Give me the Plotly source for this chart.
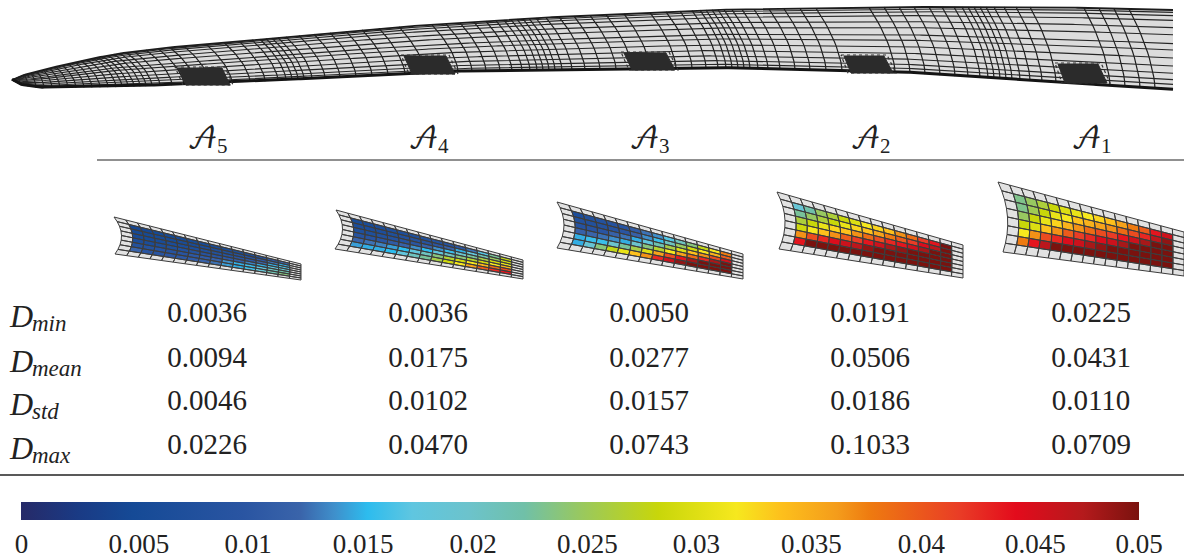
import numpy as np
import plotly.graph_objects as go
from plotly.colors import sample_colorscale

# ---------- table data ----------
areas = ["𝒜", "𝒜", "𝒜", "𝒜", "𝒜"]
area_subs = ["5", "4", "3", "2", "1"]
row_names = ["min", "mean", "std", "max"]
d_min = ["0.0036", "0.0036", "0.0050", "0.0191", "0.0225"]
d_mean = ["0.0094", "0.0175", "0.0277", "0.0506", "0.0431"]
d_std = ["0.0046", "0.0102", "0.0157", "0.0186", "0.0110"]
d_max = ["0.0226", "0.0470", "0.0743", "0.1033", "0.0709"]
tick_text = ["0", "0.005", "0.01", "0.015", "0.02", "0.025", "0.03", "0.035", "0.04", "0.045", "0.05"]
# where the reference prints those labels along the bar, as fractions of the 0-0.05 scale
tick_places = [0.0005, 0.1055, 0.2032, 0.306, 0.4045, 0.5066, 0.604, 0.7069, 0.8053, 0.9073, 1.0]

# ---------- damage on each patch (rows top to bottom, columns root to tip) ----------
a5 = [
    [.0045, .0045, .005, .005, .005, .0055, .0055, .006, .006, .0065, .007, .008, .0105, .0125],
    [.005, .005, .0055, .0055, .006, .006, .0065, .007, .0075, .008, .009, .0105, .013, .015],
    [.0055, .0055, .006, .0065, .0065, .007, .0075, .008, .0085, .0095, .0105, .0125, .015, .017],
    [.0065, .0065, .007, .0075, .008, .0085, .009, .0095, .0105, .0115, .0135, .015, .018, .02],
    [.0085, .0085, .009, .009, .0095, .0105, .011, .012, .014, .015, .016, .018, .021, .0225],
    [.0125, .0095, .0095, .010, .0105, .011, .012, .013, .0145, .015, .0165, .019, .022, .024],
]
a4 = [
    [.006, .006, .0065, .007, .007, .0075, .008, .0085, .009, .010, .013, .017, .023, .028],
    [.0065, .0065, .007, .0075, .008, .0085, .009, .010, .012, .015, .018, .022, .025, .029],
    [.0075, .0075, .008, .0085, .009, .010, .012, .014, .016, .020, .023, .026, .029, .031],
    [.009, .0095, .010, .011, .012, .014, .0155, .018, .021, .024, .027, .029, .032, .035],
    [.0125, .013, .0135, .0145, .0155, .018, .021, .024, .027, .029, .032, .035, .039, .041],
    [.0145, .015, .015, .0155, .018, .021, .023, .026, .029, .032, .036, .040, .043, .044],
]
a3 = [
    [.007, .008, .0085, .009, .0095, .011, .013, .014, .017, .021, .024, .028, .032, .038],
    [.008, .008, .0085, .009, .010, .012, .014, .016, .021, .025, .029, .032, .035, .040],
    [.009, .0095, .010, .012, .013, .015, .018, .022, .026, .030, .034, .037, .041, .046],
    [.012, .0125, .013, .014, .015, .020, .024, .027, .032, .036, .039, .043, .048, .05],
    [.015, .016, .016, .020, .023, .026, .030, .036, .041, .044, .048, .05, .05, .05],
    [.015, .019, .024, .028, .031, .034, .037, .043, .046, .049, .05, .05, .05, .05],
]
a2 = [
    [.019, .0225, .025, .0265, .0285, .030, .032, .033, .034, .037, .039, .042, .044, .05],
    [.023, .025, .0265, .0285, .031, .033, .034, .036, .038, .040, .042, .045, .047, .05],
    [.0265, .0285, .031, .033, .034, .037, .039, .041, .043, .044, .046, .048, .05, .05],
    [.029, .032, .034, .037, .040, .042, .044, .046, .048, .049, .05, .05, .05, .05],
    [.037, .041, .043, .045, .046, .047, .049, .05, .05, .05, .05, .05, .05, .05],
    [.044, .05, .05, .05, .05, .05, .05, .05, .05, .05, .05, .05, .05, .05],
]
a1 = [
    [.0235, .025, .0265, .0285, .030, .031, .032, .033, .034, .036, .038, .040, .044, .046],
    [.0235, .0255, .0285, .031, .032, .034, .035, .036, .037, .039, .041, .043, .047, .049],
    [.025, .0285, .031, .033, .035, .037, .039, .041, .042, .044, .046, .048, .05, .05],
    [.0285, .030, .034, .037, .040, .042, .043, .045, .046, .048, .05, .05, .05, .05],
    [.032, .037, .041, .043, .045, .046, .048, .049, .05, .05, .05, .05, .05, .05],
    [.038, .044, .047, .05, .05, .05, .05, .05, .05, .05, .05, .05, .05, .05],
]
patch_values = [a5, a4, a3, a2, a1]

colorscale = [
    [0.00, "#262a68"], [0.05, "#1a3a84"], [0.10, "#154a96"], [0.20, "#2a55a2"],
    [0.25, "#3a64aa"], [0.28, "#3f8fcb"], [0.31, "#2dbcee"], [0.35, "#5fc6e0"],
    [0.40, "#6cc3cc"], [0.45, "#70c0a8"], [0.50, "#98c860"], [0.57, "#c8d60a"],
    [0.64, "#f6e81e"], [0.68, "#fdc01c"], [0.73, "#f49c1b"], [0.76, "#ee7a10"],
    [0.84, "#e93c26"], [0.89, "#e30b1c"], [0.95, "#b41a1c"], [1.00, "#7a120e"],
]

# ---------- wing outline and mesh lines (page-pixel axes) ----------
wing_top_x = [12, 20, 38, 76, 115, 153, 230, 306, 383, 459, 536, 600, 704, 893, 1045, 1173]
wing_top_y = [80, 76, 71, 62, 54, 49, 42, 35, 28, 23, 18, 15, 10, 7, 7, 10]
wing_bot_x = [12, 20, 38, 120, 230, 451, 590, 704, 893, 1045, 1173]
wing_bot_y = [80, 85, 88, 87, 83, 72, 70, 68, 72, 82, 90]
wing_cols = [20, 28, 36, 44, 52, 60, 68, 76, 84, 92, 100, 108, 116, 122, 128, 134, 140, 146, 152, 160,
             172, 184, 196, 210, 232, 250, 265, 278, 286, 292, 298, 304, 312, 325, 340, 356, 372, 388,
             405, 425, 458, 472, 486, 500, 512, 522, 530, 537, 543, 549, 555, 562, 572, 585, 600, 616,
             632, 650, 676, 692, 706, 718, 726, 732, 738, 744, 750, 758, 768, 780, 795, 810, 826, 842,
             895, 910, 925, 940, 955, 968, 980, 988, 994, 1000, 1006, 1012, 1020, 1030, 1042, 1056,
             1110, 1125, 1140, 1155]
wing_rows = [0.03, 0.07, 0.13, 0.22, 0.31, 0.42, 0.5, 0.6, 0.7, 0.79, 0.87, 0.93]
# dark refined zones on the wing: bottom-left x, bottom-right x, top-left x, top-right x, top y, bottom y
wing_zones = [
    (186, 230, 178, 222, 67, 85),
    (412, 455, 404, 446, 55, 74),
    (632, 675, 624, 666, 52, 70),
    (851, 893, 844, 884, 55, 73),
    (1065, 1107, 1058, 1098, 63, 83),
]

# corners of the five strain patches: top-left, bottom-left, top-right, bottom-right
patch_corners = [
    ((114, 217), (115, 254), (301, 264), (301, 280)),
    ((336, 210), (335, 249), (523, 260), (523, 279)),
    ((557, 202), (557, 248), (743, 254), (743, 279)),
    ((777, 192), (779, 249), (963, 245), (963, 278)),
    ((998, 182), (1003, 252), (1184, 232), (1184, 276)),
]
col_centres = [207, 428, 649, 870, 1091]
row_y = [315, 360, 403, 447]

LINE = "#3c3c3c"
CELL = "#e2e2e2"
INK = "#222222"
SERIF = "Liberation Serif"
fig = go.Figure()

# wing surface
wx = np.linspace(12, 1173, 500)
top = np.interp(wx, wing_top_x, wing_top_y)
bot = np.interp(wx, wing_bot_x, wing_bot_y)
fig.add_trace(go.Scatter(x=list(wx) + list(wx[::-1]), y=list(top) + list(bot[::-1]), mode="none",
                         fill="toself", fillcolor="#dcdcdc", hoverinfo="skip"))
gx, gy = [], []
for c in wing_cols:
    vs = np.linspace(0, 1, 14)
    xs = c - 26 * (1 - vs) ** 1.6 * min(1, (c - 12) / 120)
    ys = np.interp(xs, wx, top) + vs * (np.interp(xs, wx, bot) - np.interp(xs, wx, top))
    gx += list(xs) + [None]
    gy += list(ys) + [None]
fig.add_trace(go.Scatter(x=gx, y=gy, mode="lines", line=dict(color="#1f1f1f", width=1.2), hoverinfo="skip"))
rx, ry = [], []
for r in wing_rows:
    rx += list(wx) + [None]
    ry += list(top + r * (bot - top)) + [None]
fig.add_trace(go.Scatter(x=rx, y=ry, mode="lines", line=dict(color="#262626", width=1.1), hoverinfo="skip"))
fig.add_trace(go.Scatter(x=wx, y=top, mode="lines", line=dict(color="#1c1c1c", width=1.8), hoverinfo="skip"))
fig.add_trace(go.Scatter(x=wx, y=bot - 0.8, mode="lines", line=dict(color="#141414", width=3), hoverinfo="skip"))
for blx, brx, tlx, trx, ty, by in wing_zones:
    fig.add_trace(go.Scatter(x=[tlx - 3, trx + 3, brx + 3, blx - 3, tlx - 3], y=[ty, ty, by, by, ty],
                             mode="lines", line=dict(color="#333333", width=1.2, dash="dot"), hoverinfo="skip"))
    fig.add_trace(go.Scatter(x=[tlx, trx, brx, blx, tlx], y=[ty + 1, ty + 1, by, by, ty + 1], mode="lines",
                             fill="toself", fillcolor="#2b2b2b", line=dict(color="#2b2b2b", width=1),
                             hoverinfo="skip"))

# strain patches
NU, NV = 16, 8
def node(corners, i, j):
    tl, bl, tr, br = [np.array(p, float) for p in corners]
    u, v = i / NU, j / NV
    t = tl + (tr - tl) * u
    b = bl + (br - bl) * u
    p = t + (b - t) * v
    p[0] += 7 * (1 - u) * (1 - (2 * v - 1) ** 2)
    return p

for corners, values in zip(patch_corners, patch_values):
    gx, gy = [], []
    for i in range(NU):
        for j in range(NV):
            q = [node(corners, i + a, j + b) for a, b in [(0, 0), (1, 0), (1, 1), (0, 1), (0, 0)]]
            xs = [p[0] for p in q]
            ys = [p[1] for p in q]
            if 1 <= i <= 14 and 1 <= j <= 6:
                val = values[j - 1][i - 1]
                col = sample_colorscale(colorscale, val / 0.05)[0]
                fig.add_trace(go.Scatter(x=xs, y=ys, mode="none", fill="toself", fillcolor=col,
                                         hovertemplate=f"{val}<extra></extra>"))
            else:
                fig.add_trace(go.Scatter(x=xs, y=ys, mode="none", fill="toself", fillcolor=CELL,
                                         hoverinfo="skip"))
            gx += xs + [None]
            gy += ys + [None]
    fig.add_trace(go.Scatter(x=gx, y=gy, mode="lines", line=dict(color=LINE, width=1.0), hoverinfo="skip"))

# table values
for y, row in zip(row_y, [d_min, d_mean, d_std, d_max]):
    fig.add_trace(go.Scatter(x=col_centres, y=[y] * 5, text=row, mode="text", textposition="middle center",
                             textfont=dict(family=SERIF, size=29, color=INK), hoverinfo="skip"))

# colour bar from the library
fig.add_trace(go.Scatter(
    x=[None], y=[None], mode="markers",
    marker=dict(color=[0, 0.05], cmin=0, cmax=0.05, colorscale=colorscale, showscale=True,
                colorbar=dict(orientation="h", lenmode="pixels", len=1118, thicknessmode="pixels", thickness=18,
                              x=21 / 1184, xanchor="left", y=1 - 502 / 558, yanchor="top", xpad=0, ypad=0,
                              outlinewidth=0, ticks="", tickvals=[p * 0.05 for p in tick_places],
                              ticktext=tick_text, tickfont=dict(family=SERIF, size=27, color=INK))),
    hoverinfo="skip"))

def label(x, y, text, family, size, italic=False, anchor="left"):
    return dict(x=x, y=y, xref="x", yref="y", showarrow=False, xanchor=anchor, yanchor="middle",
                text=f"<i>{text}</i>" if italic else text, font=dict(family=family, size=size, color=INK))

annotations = []
for x, a, s in zip(col_centres, areas, area_subs):
    annotations.append(label(x - 5, 139, a, "DejaVu Math TeX Gyre, " + SERIF, 29, anchor="center"))
    annotations.append(label(x + 8, 146, s, SERIF, 21))
for y, n in zip(row_y, row_names):
    annotations.append(label(7, y + 1, "D", SERIF, 32, italic=True))
    annotations.append(label(30, y + 8, n, SERIF, 23, italic=True))

fig.update_layout(
    width=1184, height=558, margin=dict(l=0, r=0, t=0, b=0, autoexpand=False),
    paper_bgcolor="white", plot_bgcolor="white", showlegend=False, annotations=annotations,
    xaxis=dict(range=[0, 1184], visible=False, fixedrange=True),
    yaxis=dict(range=[558, 0], visible=False, fixedrange=True),
    shapes=[
        dict(type="line", xref="x", yref="y", x0=97, x1=1184, y0=160, y1=160, line=dict(color=INK, width=1.2)),
        dict(type="line", xref="x", yref="y", x0=0, x1=1184, y0=475, y1=475, line=dict(color=INK, width=1.4)),
    ],
)
fig.write_html("out.html", config=dict(displayModeBar=False),
               post_script="document.body.style.margin='0';document.documentElement.style.overflow='hidden';")
